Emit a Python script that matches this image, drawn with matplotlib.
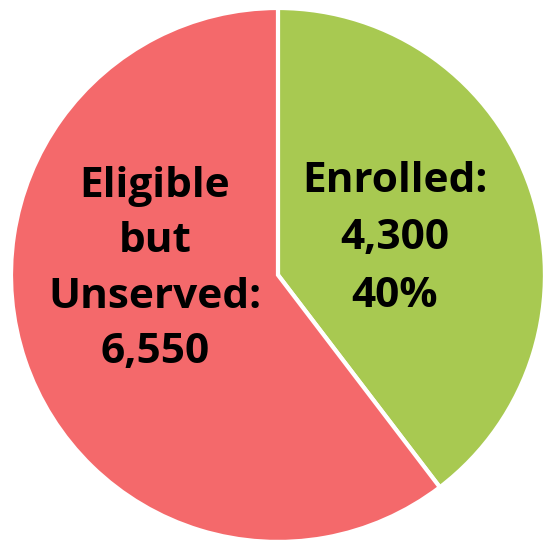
import matplotlib
matplotlib.use("Agg")
import matplotlib.pyplot as plt

categories = ["Enrolled", "Eligible but Unserved"]
values = [4300, 6550]
colors = ["#A8C951", "#F4696B"]

plt.rcParams['font.family'] = ['Open Sans', 'DejaVu Sans']

fig = plt.figure(figsize=(5.43, 5.43), dpi=100)
ax = fig.add_axes([0, 0, 1, 1])
ax.pie(values, colors=colors, startangle=90, counterclock=False,
       radius=1.0, center=(0, 0),
       wedgeprops=dict(edgecolor="white", linewidth=3))
ax.set_xlim(-1.041, 0.9925)
ax.set_ylim(-1.004, 1.030)
ax.set_aspect('equal')
ax.axis('off')

total = sum(values)
pct = round(values[0] / total * 100)
right_lines = ["Enrolled:", f"{values[0]:,}", f"{pct}%"]
left_lines = ["Eligible", "but", "Unserved:", f"{values[1]:,}"]

def px2y(p):
    return (275 - p) / 267.0

def px2x(p):
    return (p - 278) / 267.0

for i, s in enumerate(right_lines):
    ax.text(px2x(395), px2y(192 + 57.5 * i), s, ha='center', va='baseline',
            fontsize=30.5, fontweight='bold', color='black')
for i, s in enumerate(left_lines):
    ax.text(px2x(155), px2y(197 + 55.5 * i), s, ha='center', va='baseline',
            fontsize=30.5, fontweight='bold', color='black')

fig.savefig("out.png", dpi=100)
